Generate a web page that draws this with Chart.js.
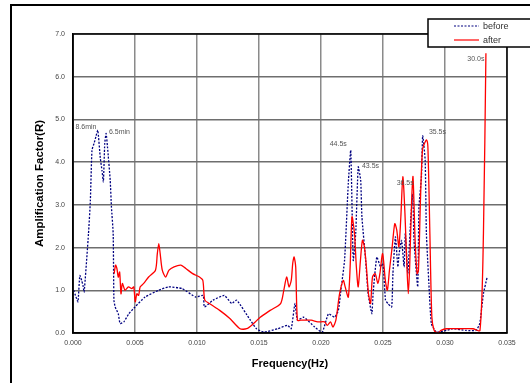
<!DOCTYPE html>
<html>
<head>
<meta charset="utf-8">
<script src="https://cdn.jsdelivr.net/npm/chart.js@4.4.1/dist/chart.umd.min.js"></script>
<style>
  html, body { margin: 0; padding: 0; background: #fff; }
  canvas { display: block; }
</style>
</head>
<body>
<canvas id="ampChart" width="530" height="383"></canvas>
<script>
// ─── Data ────────────────────────────────────────────────────────
const beforeFreq = [0.00005, 0.0002, 0.0004, 0.00055, 0.0007, 0.0008, 0.0009, 0.00125, 0.0014, 0.00153, 0.0017, 0.00185, 0.002, 0.0022, 0.00234, 0.00245, 0.00256, 0.00267, 0.00278, 0.003, 0.0031, 0.00324, 0.0033, 0.0034, 0.00365, 0.0038, 0.0041, 0.0045, 0.005, 0.0058, 0.0069, 0.0077, 0.0088, 0.0099, 0.0105, 0.0106, 0.0113, 0.0122, 0.0128, 0.0132, 0.0143, 0.0148, 0.0154, 0.0165, 0.0173, 0.0176, 0.0179, 0.0181, 0.0186, 0.0195, 0.0201, 0.0206, 0.0211, 0.0214, 0.0216, 0.0219, 0.0222, 0.0224, 0.0226, 0.0228, 0.023, 0.0232, 0.0233, 0.0236, 0.0238, 0.0241, 0.0242, 0.0245, 0.0248, 0.025, 0.0252, 0.0254, 0.0257, 0.0258, 0.026, 0.0262, 0.0263, 0.0265, 0.0267, 0.0268, 0.027, 0.0272, 0.0274, 0.0275, 0.0278, 0.0279, 0.0281, 0.0282, 0.0284, 0.0285, 0.0287, 0.0289, 0.0293, 0.0301, 0.0306, 0.0317, 0.0325, 0.0328, 0.0331, 0.0334];
const beforeAmp = [1.0, 0.88, 0.73, 1.35, 1.23, 1.12, 0.96, 2.33, 3.1, 4.28, 4.44, 4.6, 4.75, 4.1, 3.8, 3.54, 4.44, 4.67, 4.36, 3.58, 2.95, 2.33, 0.77, 0.61, 0.45, 0.22, 0.26, 0.45, 0.61, 0.84, 1.0, 1.08, 1.04, 0.84, 0.88, 0.61, 0.77, 0.88, 0.69, 0.77, 0.3, 0.1, 0.02, 0.1, 0.18, 0.1, 0.69, 0.3, 0.37, 0.14, 0.02, 0.45, 0.37, 0.53, 1.0, 1.7, 3.5, 4.28, 1.7, 2.33, 3.89, 3.58, 2.72, 1.7, 0.92, 0.45, 0.92, 1.78, 1.55, 1.63, 0.77, 0.69, 0.61, 1.39, 2.25, 1.55, 1.86, 2.17, 1.55, 2.33, 1.39, 2.48, 3.27, 2.17, 1.08, 2.95, 3.66, 4.62, 4.05, 2.33, 1.16, 0.22, 0.02, 0.06, 0.1, 0.06, 0.06, 0.22, 0.92, 1.31];

const afterFreq = [0.00332, 0.00343, 0.00354, 0.00365, 0.00376, 0.00387, 0.00398, 0.0042, 0.00447, 0.00474, 0.0049, 0.00502, 0.00515, 0.00529, 0.00542, 0.0057, 0.0061, 0.00665, 0.0068, 0.00692, 0.00703, 0.0072, 0.00747, 0.00774, 0.00815, 0.0087, 0.0091, 0.00965, 0.0102, 0.01047, 0.01063, 0.011, 0.01183, 0.01265, 0.01347, 0.014, 0.01456, 0.0151, 0.0159, 0.01674, 0.017, 0.01723, 0.01742, 0.0176, 0.01772, 0.01783, 0.01796, 0.0181, 0.01837, 0.0192, 0.01974, 0.0203, 0.0205, 0.02077, 0.02096, 0.0212, 0.0215, 0.0218, 0.02195, 0.0222, 0.02235, 0.0225, 0.0227, 0.02285, 0.023, 0.02318, 0.02334, 0.0235, 0.02366, 0.02383, 0.024, 0.02415, 0.02437, 0.02459, 0.02475, 0.02497, 0.02519, 0.02535, 0.02552, 0.02574, 0.02595, 0.02611, 0.02628, 0.02644, 0.0266, 0.02677, 0.02693, 0.02704, 0.02715, 0.02731, 0.02742, 0.02759, 0.02775, 0.02786, 0.02802, 0.02818, 0.02835, 0.02851, 0.02862, 0.02878, 0.02894, 0.02913, 0.02941, 0.02968, 0.0301, 0.03117, 0.03226, 0.03282, 0.0331, 0.0333];
const afterAmp = [1.39, 1.59, 1.51, 1.31, 1.43, 0.92, 1.16, 1.0, 1.08, 1.04, 1.08, 0.73, 0.92, 0.88, 1.08, 1.16, 1.31, 1.47, 1.86, 2.09, 1.86, 1.47, 1.31, 1.47, 1.55, 1.59, 1.51, 1.39, 1.31, 1.23, 0.77, 0.69, 0.53, 0.34, 0.1, 0.1, 0.22, 0.37, 0.53, 0.69, 1.0, 1.31, 1.08, 1.23, 1.63, 1.78, 1.55, 0.3, 0.3, 0.3, 0.26, 0.26, 0.18, 0.26, 0.14, 0.3, 0.92, 1.23, 1.08, 0.84, 1.55, 2.72, 2.33, 1.55, 1.08, 1.7, 2.17, 2.02, 1.55, 0.92, 0.69, 1.31, 1.39, 1.16, 1.39, 1.86, 1.23, 1.0, 1.47, 2.02, 2.56, 2.41, 2.02, 2.72, 3.66, 2.8, 1.55, 0.92, 1.55, 3.11, 3.66, 2.17, 1.39, 1.47, 3.11, 4.28, 4.44, 4.52, 4.36, 2.33, 0.37, 0.06, 0.0, 0.06, 0.1, 0.1, 0.1, 0.06, 2.33, 6.55];

// peak annotations (text anchored at its left/baseline in data units)
const peakText = ["8.6min", "6.5min", "44.5s", "43.5s", "36.5s", "35.5s", "30.0s"];
const peakFreq = [0.0002, 0.0029, 0.0207, 0.0233, 0.0261, 0.0287, 0.0318];
const peakAmp  = [4.82, 4.71, 4.43, 3.9, 3.51, 4.71, 6.42];

const NAVY = '#000080';
const RED = '#ff0000';
const FONT = 'Liberation Sans, Arial, sans-serif';

const toPoints = (xs, ys) => xs.map((x, i) => ({ x, y: ys[i] }));

// ─── Frame, plot border, legend and peak labels ──────────────────
const decorPlugin = {
    id: 'decor',
    beforeDraw(chart) {
        const { ctx } = chart;
        ctx.save();
        ctx.fillStyle = '#fff';
        ctx.fillRect(0, 0, chart.width, chart.height);
        ctx.restore();
    },
    afterDatasetsDraw(chart) {
        const { ctx, chartArea: a, scales: { x, y } } = chart;
        ctx.save();
        // plot border
        ctx.strokeStyle = '#000';
        ctx.lineWidth = 1.5;
        ctx.strokeRect(a.left, a.top, a.right - a.left, a.bottom - a.top);

        // outer frame
        ctx.lineWidth = 2;
        ctx.beginPath();
        ctx.moveTo(11, chart.height + 2);
        ctx.lineTo(11, 5);
        ctx.lineTo(chart.width + 2, 5);
        ctx.stroke();

        // peak labels
        ctx.font = `7px ${FONT}`;
        ctx.fillStyle = '#555';
        ctx.textBaseline = 'middle';
        ctx.textAlign = 'left';
        peakText.forEach((t, i) => ctx.fillText(t, x.getPixelForValue(peakFreq[i]), y.getPixelForValue(peakAmp[i])));

        // legend box
        ctx.fillStyle = '#fff';
        ctx.fillRect(428, 19, chart.width - 428 + 2, 28);
        ctx.strokeStyle = '#000';
        ctx.lineWidth = 1.5;
        ctx.strokeRect(428, 19, chart.width - 428 + 4, 28);

        ctx.lineWidth = 1.2;
        ctx.strokeStyle = NAVY;
        ctx.setLineDash([2, 1.5]);
        ctx.beginPath(); ctx.moveTo(454, 26); ctx.lineTo(479, 26); ctx.stroke();
        ctx.setLineDash([]);
        ctx.strokeStyle = RED;
        ctx.beginPath(); ctx.moveTo(454, 40); ctx.lineTo(479, 40); ctx.stroke();

        ctx.font = `9px ${FONT}`;
        ctx.fillStyle = '#333';
        ctx.fillText('before', 483, 26.5);
        ctx.fillText('after', 483, 40.5);
        ctx.restore();
    },
};

new Chart(document.getElementById('ampChart'), {
    type: 'line',
    data: {
        datasets: [
            {
                label: 'before',
                data: toPoints(beforeFreq, beforeAmp),
                borderColor: NAVY,
                borderWidth: 1.3,
                borderDash: [2, 1.5],
                pointRadius: 0,
                tension: 0.15,
                order: 2,
            },
            {
                label: 'after',
                data: toPoints(afterFreq, afterAmp),
                borderColor: RED,
                borderWidth: 1.3,
                pointRadius: 0,
                tension: 0.25,
                order: 1,
            },
        ],
    },
    options: {
        responsive: false,
        animation: false,
        layout: { padding: { left: 0, top: 34, right: 23, bottom: 0 } },
        plugins: { legend: { display: false }, tooltip: { enabled: false } },
        scales: {
            x: {
                type: 'linear',
                min: 0,
                max: 0.035,
                afterFit: (s) => { s.height = 50; },
                ticks: {
                    stepSize: 0.005,
                    padding: 6,
                    maxRotation: 0,
                    color: '#444',
                    font: { family: FONT, size: 7 },
                    callback: (v) => v.toFixed(3),
                },
                grid: { color: '#8a8a8a', lineWidth: 1.5, drawTicks: false },
                border: { color: '#000', width: 1.5 },
                title: {
                    display: true,
                    text: 'Frequency(Hz)',
                    color: '#000',
                    font: { family: FONT, size: 11, weight: 'bold' },
                    padding: { top: 0, bottom: 12 },
                },
            },
            y: {
                min: 0,
                max: 7,
                afterFit: (s) => { s.width = 73; },
                ticks: {
                    stepSize: 1,
                    padding: 8,
                    color: '#444',
                    font: { family: FONT, size: 7 },
                    callback: (v) => v.toFixed(1),
                },
                grid: { color: '#6e6e6e', lineWidth: 1.5, drawTicks: false },
                border: { color: '#000', width: 1.5 },
                title: {
                    display: true,
                    text: 'Amplification Factor(R)',
                    color: '#000',
                    font: { family: FONT, size: 11.5, weight: 'bold' },
                    padding: { top: 33, bottom: 0 },
                },
            },
        },
    },
    plugins: [decorPlugin],
});
</script>
</body>
</html>
